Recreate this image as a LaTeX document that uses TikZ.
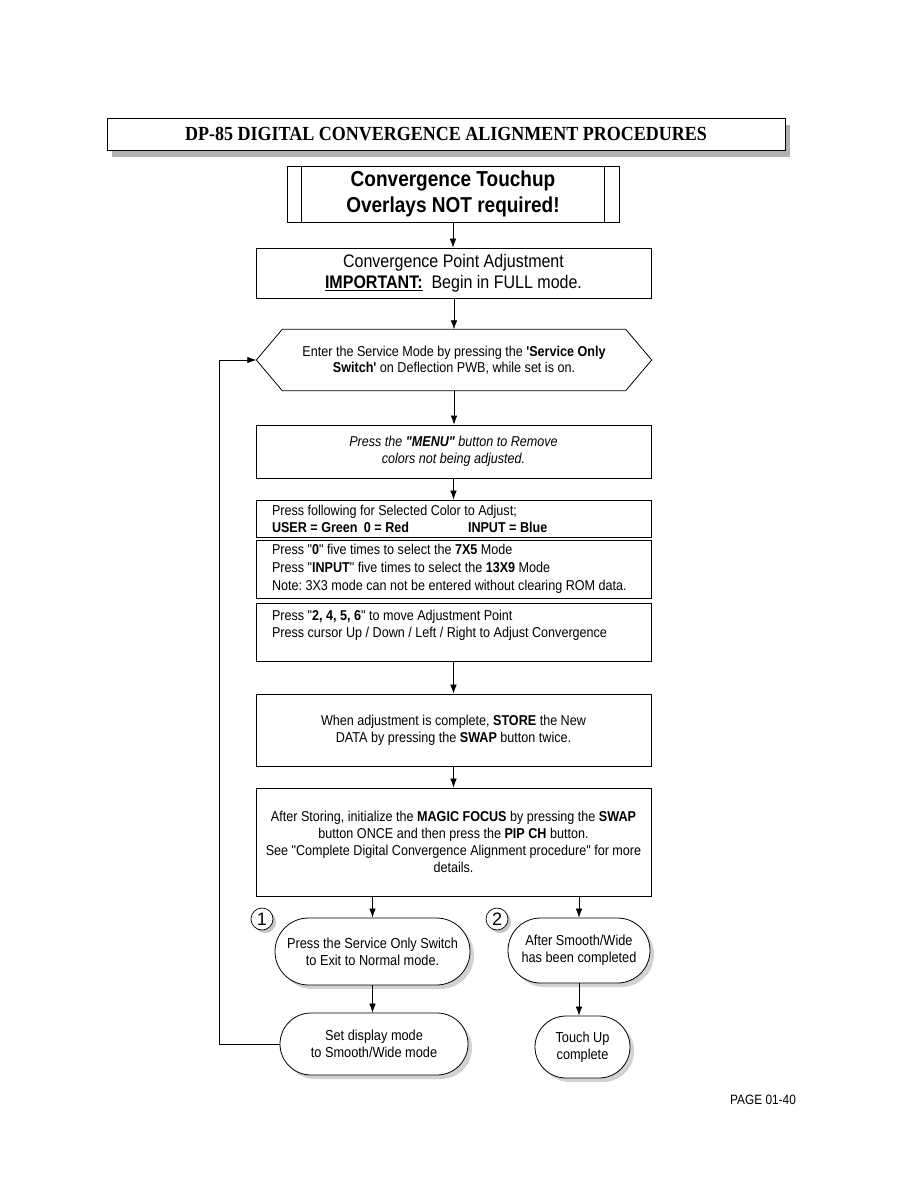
\documentclass[tikz,border=0pt]{standalone}
\usepackage{fontspec}
\setmainfont{Liberation Serif}
\newfontfamily\nar[FakeStretch=0.88]{Liberation Sans}
\newfontfamily\titlefont[FakeStretch=0.9]{Liberation Serif}
\newfontfamily\plainsans{Liberation Sans}
\usetikzlibrary{shapes.geometric,shapes.misc,shadows,arrows.meta}
\tikzset{
  box/.style={draw, line width=0.8pt, minimum width=395pt, inner sep=0pt, align=center, font=\nar\fontsize{14.3}{16.8}\selectfont},
  lbox/.style={box, align=flush left, text width=363pt},
  rnode/.style={draw, line width=0.8pt, rounded rectangle, inner sep=0pt, align=center, font=\nar\fontsize{14.5}{17}\selectfont, fill=white,
     drop shadow={shadow xshift=4pt, shadow yshift=-4pt, fill=gray!35, opacity=1}},
  numc/.style={draw, circle, line width=0.7pt, minimum size=22pt, inner sep=0pt, fill=white, font=\plainsans\fontsize{18}{18}\selectfont,
     drop shadow={shadow xshift=3pt, shadow yshift=-3pt, fill=gray!45, opacity=1}},
  arr/.style={line width=0.7pt, -{Latex[length=9pt,width=6.5pt]}},
  ln/.style={line width=0.7pt}
}
\frenchspacing
\begin{document}
\begin{tikzpicture}[x=1pt,y=-1pt]
\useasboundingbox (0,0) rectangle (918,1188);
% title
\node[draw, line width=0.8pt, minimum width=678pt, minimum height=32pt, inner sep=0pt, fill=white,
      drop shadow={shadow xshift=5pt, shadow yshift=-7pt, fill=gray!60, opacity=1},
      font=\titlefont\bfseries\fontsize{20}{20}\selectfont] (title) at (446,134) {DP-85 DIGITAL CONVERGENCE ALIGNMENT PROCEDURES};
% touchup
\node[draw, line width=1pt, minimum width=332pt, minimum height=56pt, inner sep=0pt, align=center,
      font=\nar\bfseries\fontsize{21.6}{26}\selectfont] (touch) at (453,194) {Convergence Touchup\\Overlays NOT required!};
\draw[line width=1pt] ([xshift=15pt]touch.north west) -- ([xshift=15pt]touch.south west);
\draw[line width=1pt] ([xshift=-15pt]touch.north east) -- ([xshift=-15pt]touch.south east);
% cpa
\node[box, minimum height=50pt, font=\nar\fontsize{18.2}{21}\selectfont] (cpa) at (453.5,273)
  {Convergence Point Adjustment\\\underline{\textbf{IMPORTANT:}}\ \ Begin in FULL mode.};
% hex
\node[minimum width=395pt, minimum height=61pt, inner sep=0pt, align=center, font=\nar\fontsize{14.3}{16.5}\selectfont] (hex) at (454,360)
  {Enter the Service Mode by pressing the \textbf{'Service Only}\\\textbf{Switch'} on Deflection PWB, while set is on.};
\draw[line width=0.8pt] (hex.west) -- ([xshift=26pt]hex.north west) -- ([xshift=-26pt]hex.north east) -- (hex.east)
  -- ([xshift=-26pt]hex.south east) -- ([xshift=26pt]hex.south west) -- cycle;
% menu
\node[box, minimum height=53pt] (menu) at (453.5,451.5) {\itshape Press the \textbf{"MENU"} button to Remove\\\itshape colors not being adjusted.};
% color
\node[lbox, minimum height=37pt] (color) at (453.5,518.5) {Press following for Selected Color to Adjust;\\
  \makebox[92pt][l]{\textbf{USER = Green}}\makebox[104pt][l]{\textbf{0 = Red}}\textbf{INPUT = Blue}};
% mode
\node[lbox, minimum height=58pt, font=\nar\fontsize{14.3}{18}\selectfont] (mode) at (453.5,569) {Press "\textbf{0}" five times to select the \textbf{7X5} Mode\\
  Press "\textbf{INPUT}" five times to select the \textbf{13X9} Mode\\
  Note: 3X3 mode can not be entered without clearing ROM data.};
% press
\node[lbox, minimum height=58pt] (press) at (453.5,632) {Press "\textbf{2, 4, 5, 6}" to move Adjustment Point\\
  Press cursor Up / Down / Left / Right to Adjust Convergence\\~};
% store
\node[box, minimum height=72pt] (store) at (453.5,730) {When adjustment is complete, \textbf{STORE} the New\\DATA by pressing the \textbf{SWAP} button twice.};
% after
\node[box, minimum height=108pt] (after) at (453.5,842) {After Storing, initialize the \textbf{MAGIC FOCUS} by pressing the \textbf{SWAP}\\
  button ONCE and then press the \textbf{PIP CH} button.\\
  See "Complete Digital Convergence Alignment procedure" for more\\details.};
% rounded nodes
\node[rnode, minimum width=195pt, minimum height=67pt] (n1) at (372.5,951.5) {Press the Service Only Switch\\to Exit to Normal mode.};
\node[rnode, minimum width=142pt, minimum height=65pt] (n2) at (579,950.5) {After Smooth/Wide\\has been completed};
\node[rnode, minimum width=188pt, minimum height=62pt] (n3) at (374,1044) {Set display mode\\to Smooth/Wide mode};
\node[rnode, minimum width=95pt, minimum height=62pt] (n4) at (582.5,1047) {Touch Up\\complete};
\node[numc] (c1) at (262,919) {1};
\node[numc] (c2) at (497,919) {2};
% connectors
\draw[arr] (touch.south) -- (touch.south |- cpa.north);
\draw[arr] (cpa.south -| hex.north) -- (hex.north);
\draw[arr] (hex.south) -- (hex.south |- menu.north);
\draw[arr] (menu.south) -- (color.north);
\draw[arr] (press.south) -- (store.north);
\draw[arr] (store.south) -- (after.south |- after.north);
\draw[arr] (after.south -| n1.north) -- (n1.north);
\draw[arr] (after.south -| n2.north) -- (n2.north);
\draw[arr] (n1.south) -- (n1.south |- n3.north);
\draw[arr] (n2.south) -- (n2.south |- n4.north);
\coordinate (fb) at (219,1044);
\draw[arr] (n3.west) -- (fb) |- (hex.west);
% page
\node[font=\nar\fontsize{13.5}{14}\selectfont, inner sep=0pt] (page) at (763,1100) {PAGE 01-40};
\end{tikzpicture}
\end{document}
